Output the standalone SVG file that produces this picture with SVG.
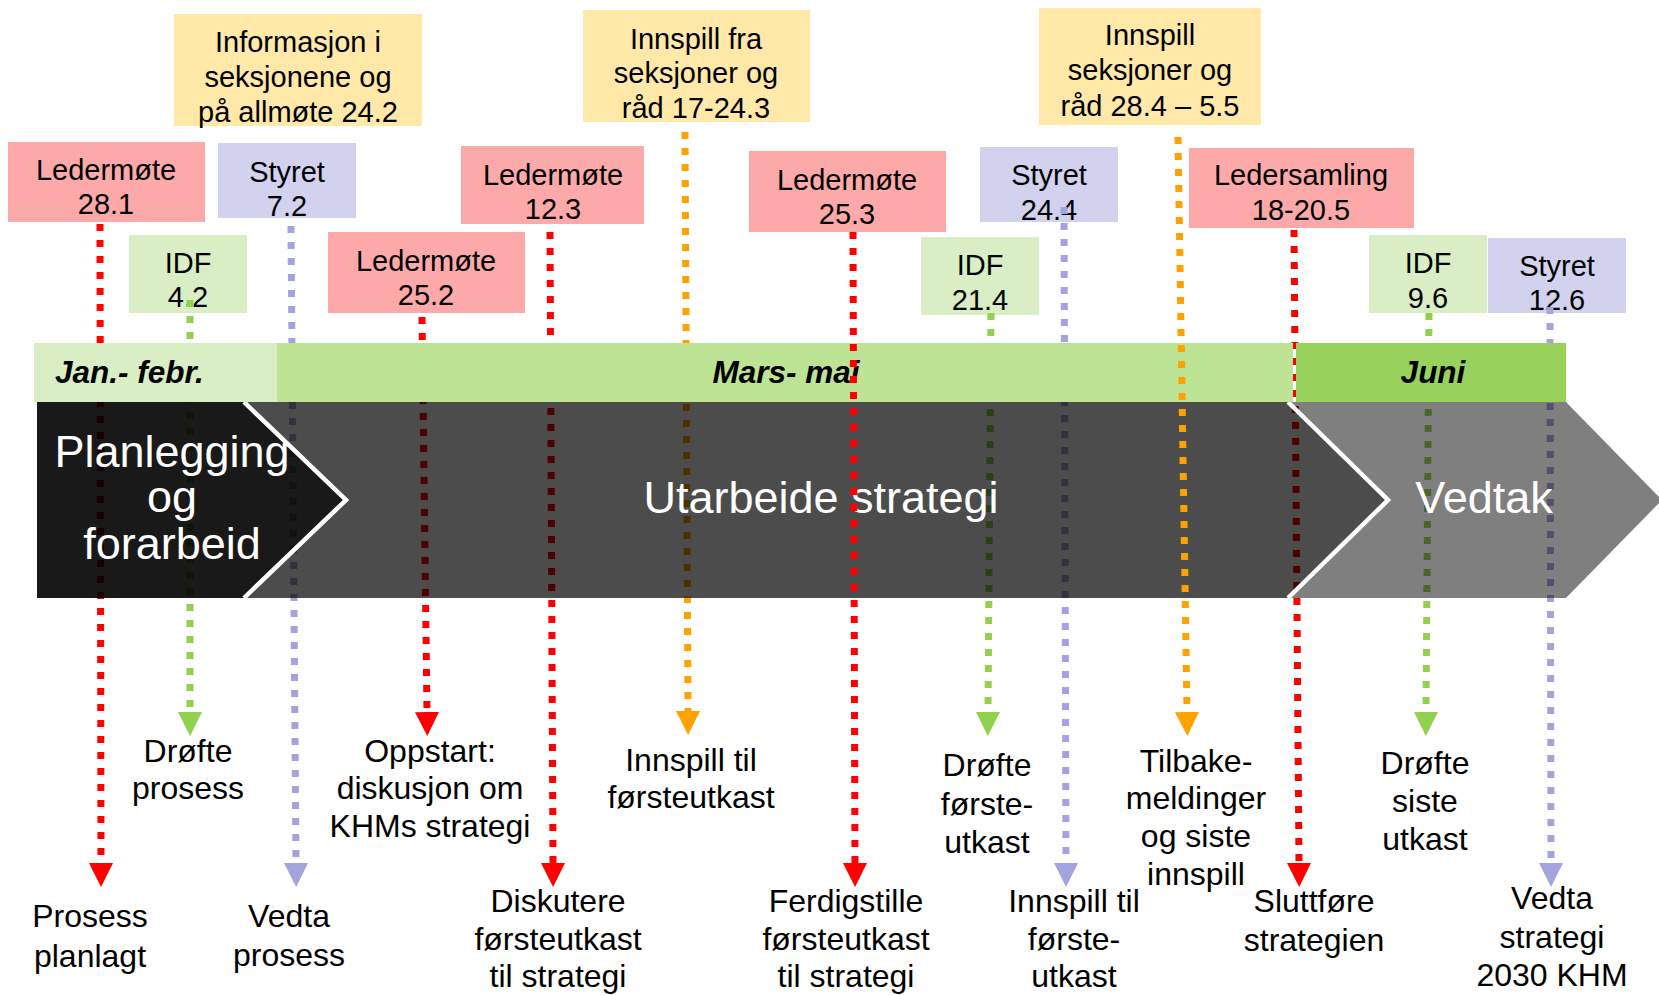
<svg xmlns="http://www.w3.org/2000/svg" width="1659" height="995" viewBox="0 0 1659 995">
<style>
text{font-family:"Liberation Sans",Arial,sans-serif;fill:#000;text-anchor:middle}
.bx{font-size:29px}
.lb{font-size:32px}
.ch{font-size:45px;fill:#fff}
.mo{font-size:31.5px;font-weight:bold;font-style:italic}
.red{fill:#FDA9A9}
.lav{fill:#D2D2EF}
.grn{fill:#D9EEC4}
.yel{fill:#FFE8A8}
.ln{fill:none;stroke-width:7;stroke-dasharray:7 9}
.lr{stroke:#FF0000;marker-end:url(#ar)}
.lo{stroke:#FFA200;marker-end:url(#ao)}
.lg{stroke:#92D050;marker-end:url(#ag)}
.ll{stroke:#A3A3DE;marker-end:url(#al)}
</style>
<defs>
<marker id="ar" markerUnits="userSpaceOnUse" markerWidth="24" markerHeight="24" refX="0" refY="12" orient="auto" viewBox="0 0 24 24"><path d="M0,0 L24,12 L0,24 Z" fill="#FF0000"/></marker>
<marker id="ao" markerUnits="userSpaceOnUse" markerWidth="24" markerHeight="24" refX="0" refY="12" orient="auto" viewBox="0 0 24 24"><path d="M0,0 L24,12 L0,24 Z" fill="#FFA200"/></marker>
<marker id="ag" markerUnits="userSpaceOnUse" markerWidth="24" markerHeight="24" refX="0" refY="12" orient="auto" viewBox="0 0 24 24"><path d="M0,0 L24,12 L0,24 Z" fill="#92D050"/></marker>
<marker id="al" markerUnits="userSpaceOnUse" markerWidth="24" markerHeight="24" refX="0" refY="12" orient="auto" viewBox="0 0 24 24"><path d="M0,0 L24,12 L0,24 Z" fill="#A3A3DE"/></marker>
</defs>
<rect width="1659" height="995" fill="#fff"/>

<g id="n-info"><rect class="yel" x="174" y="14" width="248" height="112"/><text class="bx" x="298" y="52">Informasjon i</text><text class="bx" x="298" y="87">seksjonene og</text><text class="bx" x="298" y="122">på allmøte 24.2</text></g>
<g id="n-innspill1"><rect class="yel" x="583" y="10" width="227" height="112"/><text class="bx" x="696" y="49">Innspill fra</text><text class="bx" x="696" y="83">seksjoner og</text><text class="bx" x="696" y="118">råd 17-24.3</text></g>
<g id="n-innspill2"><rect class="yel" x="1039" y="8" width="222" height="117"/><text class="bx" x="1150" y="45">Innspill</text><text class="bx" x="1150" y="80">seksjoner og</text><text class="bx" x="1150" y="116">råd 28.4 – 5.5</text></g>
<g id="n-led281"><rect class="red" x="8" y="142" width="197" height="80"/><text class="bx" x="106" y="180">Ledermøte</text><text class="bx" x="106" y="214">28.1</text></g>
<g id="n-sty72"><rect class="lav" x="218" y="143" width="138" height="75"/><text class="bx" x="287" y="182">Styret</text><text class="bx" x="287" y="216">7.2</text></g>
<g id="n-idf42"><rect class="grn" x="129" y="235" width="118" height="78"/><text class="bx" x="188" y="273">IDF</text><text class="bx" x="188" y="307">4.2</text></g>
<g id="n-led252"><rect class="red" x="328" y="232" width="197" height="81"/><text class="bx" x="426" y="271">Ledermøte</text><text class="bx" x="426" y="305">25.2</text></g>
<g id="n-led123"><rect class="red" x="461" y="146" width="183" height="78"/><text class="bx" x="553" y="185">Ledermøte</text><text class="bx" x="553" y="219">12.3</text></g>
<g id="n-led253"><rect class="red" x="749" y="151" width="197" height="81"/><text class="bx" x="847" y="190">Ledermøte</text><text class="bx" x="847" y="224">25.3</text></g>
<g id="n-sty244"><rect class="lav" x="980" y="147" width="138" height="75"/><text class="bx" x="1049" y="185">Styret</text><text class="bx" x="1049" y="220">24.4</text></g>
<g id="n-idf214"><rect class="grn" x="921" y="237" width="118" height="78"/><text class="bx" x="980" y="275">IDF</text><text class="bx" x="980" y="310">21.4</text></g>
<g id="n-ledsam"><rect class="red" x="1189" y="148" width="225" height="80"/><text class="bx" x="1301" y="185">Ledersamling</text><text class="bx" x="1301" y="220">18-20.5</text></g>
<g id="n-idf96"><rect class="grn" x="1369" y="235" width="118" height="78"/><text class="bx" x="1428" y="273">IDF</text><text class="bx" x="1428" y="308">9.6</text></g>
<g id="n-sty126"><rect class="lav" x="1488" y="238" width="138" height="75"/><text class="bx" x="1557" y="276">Styret</text><text class="bx" x="1557" y="310">12.6</text></g>

<g id="connectors">
<path class="ln lr" d="M100,224 L101,863"/>
<path class="ln lg" d="M190,300 L190,712"/>
<path class="ln ll" d="M291,226 L296,863"/>
<path class="ln lr" d="M422,317 L427,712"/>
<path class="ln lr" d="M550,232 L553,863"/>
<path class="ln lo" d="M685,132 L688,711"/>
<path class="ln lg" d="M991,313 L988,712"/>
<path class="ln ll" d="M1064,207 L1066,863"/>
<path class="ln lr" d="M1294,230 L1299,863"/>
<path class="ln lg" d="M1429,313 L1426,712"/>
<path class="ln ll" d="M1550,307 L1551,863"/>
</g>

<g id="n-phase1"><polygon points="37,402 244,402 346,500 244,598 37,598" fill="#000" fill-opacity="0.9"/></g>
<g id="n-phase2"><polygon points="244,402 1288,402 1388,500 1288,598 244,598 346,500" fill="#000" fill-opacity="0.7"/></g>
<g id="n-phase3"><polygon points="1288,402 1566,402 1662,500 1566,598 1288,598 1388,500" fill="#000" fill-opacity="0.5"/></g>
<g id="joints" fill="none" stroke="#fff" stroke-width="4.5" stroke-linejoin="miter">
<polyline points="244,402 346,500 244,598"/>
<polyline points="1288,402 1388,500 1288,598"/>
</g>

<g id="n-jan"><rect class="grn" x="34" y="343" width="243" height="59"/><text class="mo" x="55" y="383" style="text-anchor:start">Jan.- febr.</text></g>
<g id="n-mars"><rect x="277" y="343" width="1016" height="59" fill="#BDE394"/><text class="mo" x="786" y="383">Mars- mai</text></g>
<g id="n-juni"><rect x="1296" y="343" width="270" height="59" fill="#98D25D"/><text class="mo" x="1433" y="383">Juni</text></g>

<g id="phase-labels">
<text class="ch" x="172" y="467">Planlegging</text><text class="ch" x="172" y="512">og</text><text class="ch" x="172" y="559">forarbeid</text>
<text class="ch" x="821" y="513">Utarbeide strategi</text>
<text class="ch" x="1484" y="513">Vedtak</text>
</g>

<g id="connectors-front">
<path class="ln lr" d="M853,232 L855,863"/>
<path class="ln lo" d="M1178,137 L1187,712"/>
</g>

<g id="n-out1"><text class="lb" x="90" y="927">Prosess</text><text class="lb" x="90" y="967">planlagt</text></g>
<g id="n-out2"><text class="lb" x="188" y="762">Drøfte</text><text class="lb" x="188" y="799">prosess</text></g>
<g id="n-out3"><text class="lb" x="289" y="927">Vedta</text><text class="lb" x="289" y="966">prosess</text></g>
<g id="n-out4"><text class="lb" x="430" y="762">Oppstart:</text><text class="lb" x="430" y="799">diskusjon om</text><text class="lb" x="430" y="837">KHMs strategi</text></g>
<g id="n-out5"><text class="lb" x="558" y="912">Diskutere</text><text class="lb" x="558" y="950">førsteutkast</text><text class="lb" x="558" y="987">til strategi</text></g>
<g id="n-out6"><text class="lb" x="691" y="771">Innspill til</text><text class="lb" x="691" y="808">førsteutkast</text></g>
<g id="n-out7"><text class="lb" x="846" y="912">Ferdigstille</text><text class="lb" x="846" y="950">førsteutkast</text><text class="lb" x="846" y="987">til strategi</text></g>
<g id="n-out8"><text class="lb" x="987" y="776">Drøfte</text><text class="lb" x="987" y="815">første-</text><text class="lb" x="987" y="853">utkast</text></g>
<g id="n-out9"><text class="lb" x="1074" y="912">Innspill til</text><text class="lb" x="1074" y="950">første-</text><text class="lb" x="1074" y="987">utkast</text></g>
<g id="n-out10"><text class="lb" x="1196" y="772">Tilbake-</text><text class="lb" x="1196" y="809">meldinger</text><text class="lb" x="1196" y="847">og siste</text><text class="lb" x="1196" y="885">innspill</text></g>
<g id="n-out11"><text class="lb" x="1314" y="912">Sluttføre</text><text class="lb" x="1314" y="951">strategien</text></g>
<g id="n-out12"><text class="lb" x="1425" y="774">Drøfte</text><text class="lb" x="1425" y="812">siste</text><text class="lb" x="1425" y="850">utkast</text></g>
<g id="n-out13"><text class="lb" x="1552" y="909">Vedta</text><text class="lb" x="1552" y="948">strategi</text><text class="lb" x="1552" y="986">2030 KHM</text></g>
</svg>
